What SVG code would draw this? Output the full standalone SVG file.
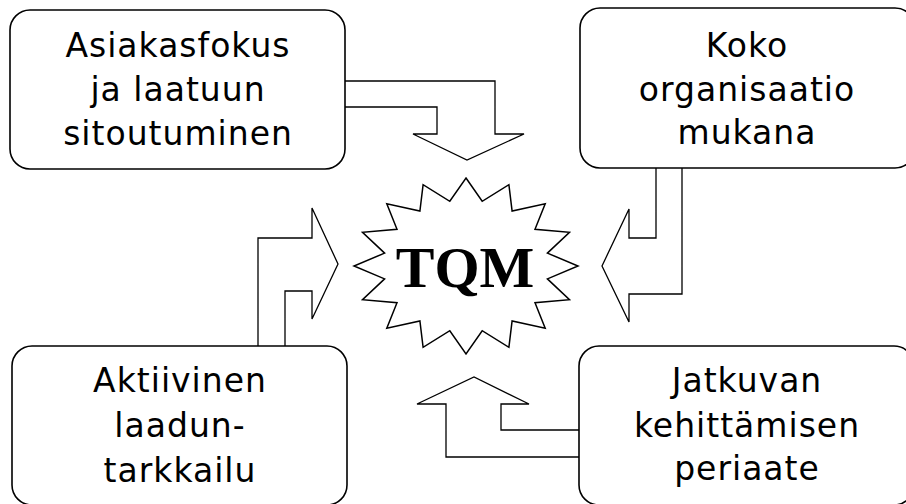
<svg xmlns="http://www.w3.org/2000/svg" width="906" height="504" viewBox="0 0 906 504">
  <style>
    .box { fill: #ffffff; stroke: #000000; stroke-width: 1.6; }
    .label { font-family: "DejaVu Sans", "Verdana", sans-serif; font-size: 33px; letter-spacing: 1px; fill: #000000; text-anchor: middle; }
    .arrow { fill: #ffffff; stroke: #000000; stroke-width: 1.3; stroke-linejoin: miter; }
    .star { fill: #ffffff; stroke: #000000; stroke-width: 1.5; stroke-linejoin: miter; }
    .core { font-family: "Liberation Serif", "Times New Roman", serif; font-size: 58px; font-weight: bold; fill: #000000; text-anchor: middle; }
  </style>
  <rect x="0" y="0" width="906" height="504" fill="#ffffff"/>

  <!-- block arrows, open on the side that touches their box -->
  <g id="connectors">
    <path class="arrow" d="M345,81 L495,81 L495,134 L524,134 L467,160 L413,134 L437,134 L437,107 L345,107"/>
    <path class="arrow" d="M656,168 L656,238 L629,238 L629,209 L602,266 L629,322 L629,294 L682,294 L682,168"/>
    <path class="arrow" d="M579,430 L501,430 L501,404 L529,404 L474,377 L417,404 L446,404 L446,457 L579,457"/>
    <path class="arrow" d="M258,346 L258,238 L312,238 L312,208 L338,264 L312,319 L312,291 L285,291 L285,346"/>
  </g>

  <g id="tqm">
    <polygon class="star" points="466,178 482.2,201.3 508.9,184.7 512.1,211.1 545.2,203.8 535,229.3 569.5,232.3 547.4,253.1 578,266 547.4,278.9 569.5,299.7 535,302.7 545.2,328.2 512.1,320.9 508.9,347.3 482.2,330.7 466,354 449.8,330.7 423.1,347.3 419.9,320.9 386.8,328.2 397,302.7 362.5,299.7 384.6,278.9 354,266 384.6,253.1 362.5,232.3 397,229.3 386.8,203.8 419.9,211.1 423.1,184.7 449.8,201.3"/>
    <text class="core" x="465" y="287">TQM</text>
  </g>

  <g id="asiakasfokus">
    <rect class="box" x="10" y="10" width="335" height="159" rx="20" ry="20"/>
    <text class="label" x="178" y="57">Asiakasfokus</text>
    <text class="label" x="178" y="101">ja laatuun</text>
    <text class="label" x="178" y="145">sitoutuminen</text>
  </g>

  <g id="koko-organisaatio">
    <rect class="box" x="580" y="8" width="335" height="160" rx="20" ry="20"/>
    <text class="label" x="747" y="57">Koko</text>
    <text class="label" x="747" y="101">organisaatio</text>
    <text class="label" x="747" y="144">mukana</text>
  </g>

  <g id="laaduntarkkailu">
    <rect class="box" x="12" y="346" width="335" height="159" rx="20" ry="20"/>
    <text class="label" x="180" y="392">Aktiivinen</text>
    <text class="label" x="180" y="437">laadun-</text>
    <text class="label" x="180" y="482">tarkkailu</text>
  </g>

  <g id="jatkuva-kehittaminen">
    <rect class="box" x="579" y="346" width="335" height="159" rx="20" ry="20"/>
    <text class="label" x="747" y="392">Jatkuvan</text>
    <text class="label" x="747" y="437">kehittämisen</text>
    <text class="label" x="747" y="480">periaate</text>
  </g>
</svg>
